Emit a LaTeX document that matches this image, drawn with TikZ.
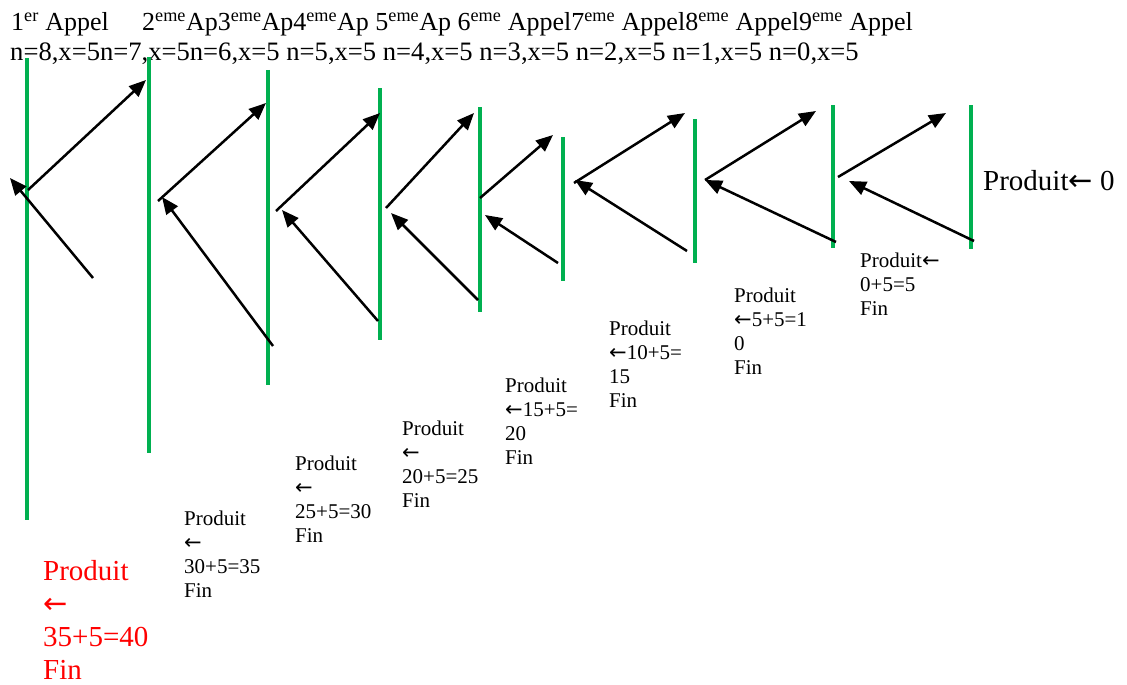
\documentclass[tikz,border=0pt]{standalone}
\usepackage{fontspec}
\setmainfont{Liberation Serif}
\newfontfamily\arwfont{DejaVu Sans}
\usetikzlibrary{arrows.meta}
\definecolor{gr}{HTML}{00B050}
\definecolor{rd}{HTML}{FF0000}
\newcommand\stack[1]{\begin{tabular}[t]{@{}l@{}}#1\end{tabular}}
\newcommand\la{{\arwfont ←}}
\begin{document}
\begin{tikzpicture}[x=1pt,y=-1pt,
  gline/.style={line width=4pt, draw=gr},
  arr/.style={line width=2.5pt, -{Triangle[length=17pt,width=14pt]}},
  hdr/.style={anchor=base west, inner sep=0, font=\fontsize{26}{30}\selectfont},
  lbl/.style={anchor=base west, inner sep=0, font=\fontsize{21}{24.3}\selectfont},
  big/.style={anchor=base west, inner sep=0, font=\fontsize{29}{33.3}\selectfont}]
\useasboundingbox (0,0) rectangle (1127,685);

% header
\node[hdr] (h1) at (11,31) {1\textsuperscript{er} Appel};
\node[hdr] (h2) at (142,31) {2\textsuperscript{eme}Ap3\textsuperscript{eme}Ap4\textsuperscript{eme}Ap 5\textsuperscript{eme}Ap 6\textsuperscript{eme} Appel7\textsuperscript{eme} Appel8\textsuperscript{eme} Appel9\textsuperscript{eme} Appel};
\node[hdr, font=\fontsize{26.6}{30}\selectfont] (h3) at (10,61) {n=8,x=5n=7,x=5n=6,x=5 n=5,x=5 n=4,x=5 n=3,x=5 n=2,x=5 n=1,x=5 n=0,x=5};

% green call lines
\draw[gline] (27,58) -- (27,520);
\draw[gline] (149,57) -- (149,453);
\draw[gline] (268,70) -- (268,385);
\draw[gline] (380,88) -- (380,340);
\draw[gline] (480,107) -- (480,312);
\draw[gline] (563,137) -- (563,281);
\draw[gline] (695,119) -- (695,263);
\draw[gline] (833,105) -- (833,248);
\draw[gline] (971,105) -- (971,249);

% arrow end points
\coordinate (a1s) at (28,190);  \coordinate (a1e) at (146,80);
\coordinate (b1s) at (93,278);  \coordinate (b1e) at (10,178);
\coordinate (a2s) at (158,201); \coordinate (a2e) at (266,103);
\coordinate (b2s) at (273,346); \coordinate (b2e) at (162,197);
\coordinate (a3s) at (276,211); \coordinate (a3e) at (380,113);
\coordinate (b3s) at (378,321); \coordinate (b3e) at (282,210);
\coordinate (a4s) at (386,208); \coordinate (a4e) at (474,113);
\coordinate (b4s) at (478,300); \coordinate (b4e) at (391,213);
\coordinate (a5s) at (480,198); \coordinate (a5e) at (553,135);
\coordinate (b5s) at (558,263); \coordinate (b5e) at (485,215);
\coordinate (a6s) at (574,183); \coordinate (a6e) at (685,113);
\coordinate (b6s) at (687,251); \coordinate (b6e) at (575,180);
\coordinate (a7s) at (705,180); \coordinate (a7e) at (816,111);
\coordinate (b7s) at (836,242); \coordinate (b7e) at (705,180);
\coordinate (a8s) at (838,177); \coordinate (a8e) at (946,113);
\coordinate (b8s) at (974,241); \coordinate (b8e) at (849,181);

\foreach \i in {1,...,8}{
  \draw[arr] (a\i s) -- (a\i e);
  \draw[arr] (b\i s) -- (b\i e);
}

% labels
\node[big] (p0) at (983,190) {Produit\la{} 0};
\node[lbl] (l8) at (860,267) {\stack{Produit\la\\0+5=5\\Fin}};
\node[lbl] (l7) at (734,302) {\stack{Produit\\\la5+5=1\\0\\Fin}};
\node[lbl] (l6) at (609,335) {\stack{Produit\\\la10+5=\\15\\Fin}};
\node[lbl] (l5) at (505,392) {\stack{Produit\\\la15+5=\\20\\Fin}};
\node[lbl] (l4) at (402,435) {\stack{Produit\\\la\\20+5=25\\Fin}};
\node[lbl] (l3) at (295,470) {\stack{Produit\\\la\\25+5=30\\Fin}};
\node[lbl] (l2) at (184,525) {\stack{Produit\\\la\\30+5=35\\Fin}};
\node[big, text=rd] (l1) at (43,580) {\stack{Produit\\\la\\35+5=40\\Fin}};
\end{tikzpicture}
\end{document}
